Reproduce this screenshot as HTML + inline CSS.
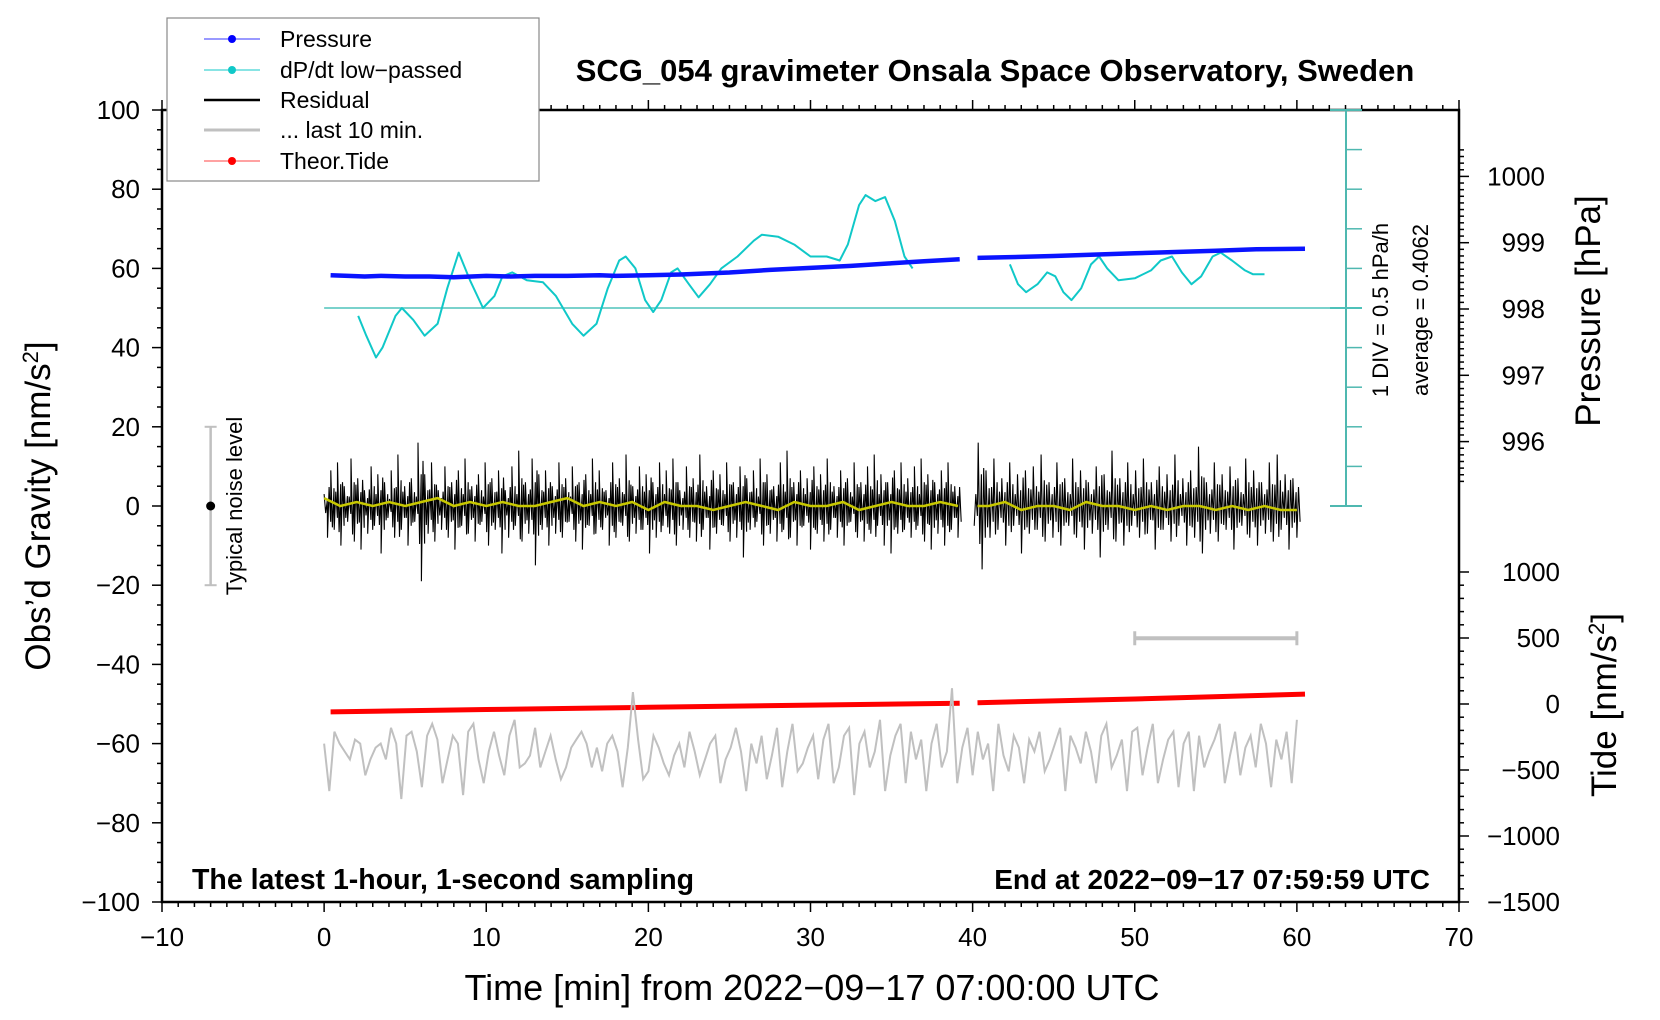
<!DOCTYPE html>
<html><head><meta charset="utf-8"><style>
html,body{margin:0;padding:0;background:#fff}
svg{display:block}
text{font-family:"Liberation Sans",sans-serif}
</style></head><body>
<svg id="chart" width="1660" height="1020" viewBox="0 0 1660 1020" xmlns="http://www.w3.org/2000/svg">
<g id="layer"></g>
</svg>
<script>
// ---------- data ----------
const xTicks = [-10,0,10,20,30,40,50,60,70];
const yTicks = [100,80,60,40,20,0,-20,-40,-60,-80,-100];
const pTicks = [1000,999,998,997,996];
const tTicks = [1000,500,0,-500,-1000,-1500];
// pressure (hPa) segments
const pressT1 = [0.4,1.5,2.5,3.5,5,6.5,8,10,11.5,13,15,17,18,20,22,25,27.5,30,32.5,35,37,39.2];
const pressV1 = [998.51,998.50,998.49,998.50,998.49,998.49,998.48,998.50,998.49,998.50,998.50,998.51,998.50,998.51,998.52,998.55,998.59,998.62,998.65,998.69,998.72,998.75];
const pressT2 = [40.3,42,45,47.5,50,52.5,55,57.5,60.5];
const pressV2 = [998.77,998.78,998.80,998.82,998.84,998.86,998.88,998.90,998.91];
// dP/dt low-passed (gravity-axis units)
const dpT1 = [2.1,2.6,3.2,3.6,4,4.4,4.8,5.5,6.2,7,7.6,8.3,9,9.8,10.5,11,11.6,12.5,13.5,14.3,15.3,16,16.8,17.5,18.2,18.6,19.2,19.8,20.3,20.8,21.4,21.8,22.5,23.1,23.8,24.5,25.5,26.5,27,28,29,30,31,31.8,32.3,33,33.4,34,34.6,35.2,35.8,36.3];
const dpV1 = [48,43,37.5,40,44,48,50,47,43,46,55,64,57,50,53,58,59,57,56.5,53,46,43,46,55,62,63,60,52,49,52,59,60,56,52.7,56,60,63,67,68.5,68,66,63,63,62,66,76,78.5,77,78,72,63,60];
const dpT2 = [42.3,42.8,43.3,44,44.6,45.1,45.6,46.1,46.7,47.3,47.8,48.3,49,50,51,51.6,52.3,52.9,53.5,54.1,54.8,55.3,56,56.8,57.3,58];
const dpV2 = [61,56,54,56,59,58,54,52,55,61,63,60,57,57.5,59.5,62,63,59,56,58,63,64,62,59.5,58.5,58.5];
// residual (nm/s^2)
const resid1 = [3,-8,9,-6,11,-10,5,-4,12,-9,7,-11,4,-7,10,-5,8,-12,6,-3,9,-8,13,-6,5,-10,7,-4,16,-19,8,-7,11,-9,4,-6,10,-8,6,-11,9,-5,12,-7,5,-9,8,-4,11,-10,7,-6,9,-12,4,-8,10,-5,14,-9,6,-7,12,-15,8,-6,9,-10,5,-7,11,-8,7,-4,10,-9,6,-11,8,-5,12,-7,9,-6,4,-10,11,-8,7,-5,13,-9,5,-7,10,-6,8,-12,6,-8,11,-5,9,-7,12,-10,4,-6,10,-8,7,-9,13,-6,5,-11,9,-7,8,-5,11,-9,6,-8,10,-13,7,-6,9,-4,12,-10,8,-7,5,-9,11,-6,14,-8,6,-10,9,-5,7,-11,10,-7,8,-9,12,-6,5,-8,9,-10,7,-4,11,-8,6,-9,10,-7,13,-5,8,-10,6,-12,9,-7,11,-6,7,-8,10,-5,12,-9,8,-11,6,-7,9,-10,11,-6,5,-8];
const resid2 = [-5,16,-16,9,-8,12,-6,7,-10,11,-5,8,-12,9,-7,10,-6,13,-9,6,-8,11,-10,7,-5,12,-8,9,-11,6,-7,10,-13,8,-6,14,-9,7,-10,11,-5,9,-8,12,-7,6,-11,10,-6,8,-9,13,-5,7,-10,9,-8,15,-12,6,-7,11,-9,8,-6,10,-11,7,-5,12,-8,9,-10,6,-7,11,-9,13,-6,8,-11,7,-8];
// running mean (yellow)
const meanT = [0,1,2,3,4,5,6,7,8,9,10,11,12,13,14,15,16,17,18,19,20,21,22,23,24,25,26,27,28,29,30,31,32,33,34,35,36,37,38,39.1];
const meanV = [2,0,1,0,1,0,1,2,0,1,0,1,0,0,1,2,0,1,0,1,-1,1,0,0,-1,0,1,0,-1,1,0,0,1,-1,0,1,0,0,1,0];
const meanT2 = [40.3,41,42,43,44,45,46,47,48,49,50,51,52,53,54,55,56,57,58,59,60];
const meanV2 = [0,0,1,-1,0,0,-1,1,0,0,-1,0,-1,0,0,-1,0,-1,0,-1,-1];
// theoretical tide (nm/s^2)
const tideT1 = [0.4,10,20,30,39.2];
const tideV1 = [-60,-42,-25,-8,5];
const tideT2 = [40.3,50,60.5];
const tideV2 = [10,38,75];
// last 10 min (gravity-axis units), drawn over 0..60
const last10 = [-60,-72,-57,-60,-62,-64,-59,-60,-68,-64,-61,-60,-64,-56,-60,-74,-58,-57,-62,-71,-58,-55,-59,-70,-64,-58,-60,-73,-57,-55,-64,-70,-62,-57,-63,-68,-58,-54,-66,-65,-63,-56,-66,-62,-58,-64,-69,-66,-61,-59,-57,-60,-66,-61,-67,-60,-58,-62,-71,-61,-47,-59,-69,-67,-58,-61,-65,-68,-63,-60,-66,-57,-62,-68,-64,-60,-58,-70,-64,-61,-56,-62,-72,-60,-65,-58,-69,-63,-56,-71,-62,-55,-67,-65,-61,-58,-69,-59,-55,-70,-66,-58,-56,-73,-60,-57,-66,-62,-54,-72,-63,-58,-55,-70,-57,-64,-59,-72,-60,-55,-66,-62,-46,-70,-61,-56,-68,-57,-64,-60,-72,-55,-63,-67,-58,-61,-70,-59,-62,-57,-67,-64,-60,-56,-72,-58,-61,-65,-57,-62,-70,-58,-55,-66,-63,-59,-72,-57,-56,-68,-61,-55,-70,-64,-59,-57,-71,-60,-57,-72,-58,-66,-62,-59,-55,-70,-63,-57,-68,-61,-58,-66,-55,-60,-71,-59,-64,-57,-70,-54];

// ---------- axes ----------
const L=162,R=1459,T=110,B=902;
const sx = m => L + (m+10)*(R-L)/80;
const sy = g => T + (100-g)*(B-T)/200;
const sp = h => 309 + (998-h)*66.3;
const st = n => 704 - n*0.132;
const NS='http://www.w3.org/2000/svg';
const layer=document.getElementById('layer');
function mk(tag,attrs,parent){const e=document.createElementNS(NS,tag);for(const k in attrs)e.setAttribute(k,attrs[k]);(parent||layer).appendChild(e);return e;}
function txt(s,attrs){const e=mk('text',attrs);e.textContent=s;return e;}
function poly(xs,ys,attrs){return mk('polyline',Object.assign({points:xs.map((x,i)=>x.toFixed(1)+','+ys[i].toFixed(1)).join(' '),fill:'none'},attrs));}

const frame=mk('rect',{x:L,y:T,width:R-L,height:B-T,fill:'none',stroke:'#000','stroke-width':2.5});



for(let m=-10;m<=70;m++){
  const big=m%10===0, x=sx(m);
  mk('line',{x1:x,x2:x,y1:B,y2:B+(big?10:5),stroke:'#000','stroke-width':1.5});
  mk('line',{x1:x,x2:x,y1:T,y2:T-(big?10:5),stroke:'#000','stroke-width':1.5});
}
xTicks.forEach(v=>{const t=txt(String(v).replace('-','\u2212'),{x:sx(v),y:946,'font-size':26,'text-anchor':'middle'});

});
for(let g=-100;g<=100;g+=5){const big=g%20===0;mk('line',{x1:L,x2:L-(big?10:5),y1:sy(g),y2:sy(g),stroke:'#000','stroke-width':1.5});}
yTicks.forEach(v=>{const t=txt(String(v).replace('-','\u2212'),{x:140,y:sy(v)+9,'font-size':26,'text-anchor':'end'});

});
for(let h=995.4;h<=1000.5;h+=0.1){const y=sp(h);if(y<T||y>B)continue;const big=Math.abs(h-Math.round(h))<0.01;mk('line',{x1:R,x2:R+(big?10:5),y1:y,y2:y,stroke:'#000','stroke-width':1.5});}
pTicks.forEach(v=>{const t=txt(String(v),{x:1545,y:sp(v)+9,'font-size':26,'text-anchor':'end'});

});
for(let n=-1500;n<=1000;n+=100){const big=n%500===0;mk('line',{x1:R,x2:R+(big?10:5),y1:st(n),y2:st(n),stroke:'#000','stroke-width':1.5});}
tTicks.forEach(v=>{const t=txt(String(v).replace('-','\u2212'),{x:1560,y:st(v)+9,'font-size':26,'text-anchor':'end'});

});

const cx=1346;
mk('line',{x1:cx,x2:cx,y1:sy(100),y2:sy(0),stroke:'#4fb8b0','stroke-width':2});
for(let g=0;g<=100;g+=10){const big=(g===0||g===100||g===50);mk('line',{x1:big?cx-16:cx,x2:cx+16,y1:sy(g),y2:sy(g),stroke:'#4fb8b0','stroke-width':big?2:1.5});}
const zl=mk('line',{x1:sx(0),x2:cx+16,y1:sy(50),y2:sy(50),stroke:'#4fc4bc','stroke-width':1.6});



function drawResid(arr,t0,t1){const xs=arr.map((_,i)=>sx(t0+(t1-t0)*i/(arr.length-1)));
 const xs2=[],ys2=[];arr.forEach((v,i)=>{const x=xs[i];xs2.push(x,x+1.6,x+3.2);ys2.push(sy(v),sy(-v*0.6),sy(v*0.5));});
 const p=poly(xs2,ys2,{stroke:'#000','stroke-width':1.1});
 
 }
drawResid(resid1,0,39.1);
drawResid(resid2,40.1,60);
[[meanT,meanV],[meanT2,meanV2]].forEach(([ts,vs])=>{const p=poly(ts.map(sx),vs.map(sy),{stroke:'#c8c800','stroke-width':2.5});

});
[[dpT1,dpV1],[dpT2,dpV2]].forEach(([ts,vs])=>{const p=poly(ts.map(sx),vs.map(sy),{stroke:'#10c8c8','stroke-width':2,'stroke-linejoin':'round'});

});
[[pressT1,pressV1],[pressT2,pressV2]].forEach(([ts,vs])=>{const p=poly(ts.map(sx),vs.map(sp),{stroke:'#0a14ff','stroke-width':4.5});

});
[[tideT1,tideV1],[tideT2,tideV2]].forEach(([ts,vs])=>{const p=poly(ts.map(sx),vs.map(st),{stroke:'#ff0000','stroke-width':5});

});
{const p=poly(last10.map((_,i)=>sx(60*i/(last10.length-1))),last10.map(sy),{stroke:'#c0c0c0','stroke-width':2});

}
{const y=sy(-33.4);mk('line',{x1:sx(50),x2:sx(60),y1:y,y2:y,stroke:'#c0c0c0','stroke-width':4});
mk('line',{x1:sx(50),x2:sx(50),y1:y-7,y2:y+7,stroke:'#c0c0c0','stroke-width':3});
mk('line',{x1:sx(60),x2:sx(60),y1:y-7,y2:y+7,stroke:'#c0c0c0','stroke-width':3});}
{const x=sx(-7);mk('line',{x1:x,x2:x,y1:sy(20),y2:sy(-20),stroke:'#c0c0c0','stroke-width':2.5});
mk('line',{x1:x-6,x2:x+6,y1:sy(20),y2:sy(20),stroke:'#c0c0c0','stroke-width':2});
mk('line',{x1:x-6,x2:x+6,y1:sy(-20),y2:sy(-20),stroke:'#c0c0c0','stroke-width':2});
mk('circle',{cx:x,cy:sy(0),r:4.5,fill:'#000'});}
</script>
<svg width="1660" height="1020" style="position:absolute;left:0;top:0" xmlns="http://www.w3.org/2000/svg">
<text x="242" y="506" font-size="22" transform="rotate(-90 242 506)" text-anchor="middle" font-family="Liberation Sans">Typical noise level</text>
<text x="995" y="81" font-size="31" font-weight="bold" text-anchor="middle" font-family="Liberation Sans">SCG_054 gravimeter Onsala Space Observatory, Sweden</text>
<text x="192" y="889" font-size="28.5" font-weight="bold" font-family="Liberation Sans">The latest 1-hour, 1-second sampling</text>
<text x="1430" y="889" font-size="28" font-weight="bold" text-anchor="end" font-family="Liberation Sans">End at 2022&#8722;09&#8722;17 07:59:59 UTC</text>
<text x="812" y="1000" font-size="36" text-anchor="middle" font-family="Liberation Sans">Time [min] from 2022&#8722;09&#8722;17 07:00:00 UTC</text>
<text x="50" y="506" font-size="35" text-anchor="middle" transform="rotate(-90 50 506)" font-family="Liberation Sans">Obs’d Gravity [nm/s<tspan font-size="22" dy="-12">2</tspan><tspan dy="12">]</tspan></text>
<text x="1600" y="311" font-size="35" text-anchor="middle" transform="rotate(-90 1600 311)" font-family="Liberation Sans">Pressure [hPa]</text>
<text x="1616" y="705" font-size="35" text-anchor="middle" transform="rotate(-90 1616 705)" font-family="Liberation Sans">Tide [nm/s<tspan font-size="22" dy="-12">2</tspan><tspan dy="12">]</tspan></text>
<text x="1388" y="310" font-size="22" text-anchor="middle" transform="rotate(-90 1388 310)" font-family="Liberation Sans">1 DIV = 0.5 hPa/h</text>
<text x="1428" y="310" font-size="22" text-anchor="middle" transform="rotate(-90 1428 310)" font-family="Liberation Sans">average = 0.4062</text>
<g>
<rect x="167" y="18" width="372" height="163" fill="#fff" stroke="#888" stroke-width="1.2"/>
<line x1="204" x2="260" y1="39" y2="39" stroke="#3333ff" stroke-width="1"/><circle cx="232" cy="39" r="4" fill="#0000ff"/>
<text x="280" y="47" font-size="23" font-family="Liberation Sans">Pressure</text>
<line x1="204" x2="260" y1="70" y2="70" stroke="#10c8c8" stroke-width="1"/><circle cx="232" cy="70" r="4" fill="#10c8c8"/>
<text x="280" y="78" font-size="23" font-family="Liberation Sans">dP/dt low&#8722;passed</text>
<line x1="204" x2="260" y1="100" y2="100" stroke="#000" stroke-width="2.5"/>
<text x="280" y="108" font-size="23" font-family="Liberation Sans">Residual</text>
<line x1="204" x2="260" y1="130" y2="130" stroke="#c0c0c0" stroke-width="3"/>
<text x="280" y="138" font-size="23" font-family="Liberation Sans">... last 10 min.</text>
<line x1="204" x2="260" y1="161" y2="161" stroke="#ff4444" stroke-width="1"/><circle cx="232" cy="161" r="4" fill="#ff0000"/>
<text x="280" y="169" font-size="23" font-family="Liberation Sans">Theor.Tide</text>
</g>
</svg>
</body></html>
